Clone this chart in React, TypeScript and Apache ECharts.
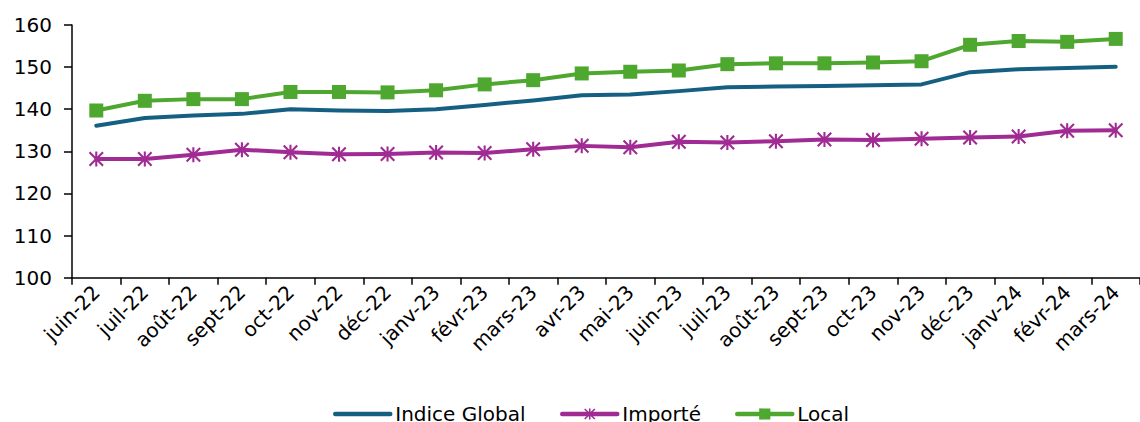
import React, { useEffect, useRef } from "react";
import * as echarts from "echarts";

const categories = [
  "juin-22", "juil-22", "août-22", "sept-22", "oct-22", "nov-22", "déc-22",
  "janv-23", "févr-23", "mars-23", "avr-23", "mai-23", "juin-23", "juil-23",
  "août-23", "sept-23", "oct-23", "nov-23", "déc-23", "janv-24", "févr-24", "mars-24",
];

const indiceGlobal = [
  136.1, 137.9, 138.5, 138.9, 140.0, 139.7, 139.6, 140.0, 141.0, 142.1, 143.3,
  143.5, 144.3, 145.2, 145.4, 145.5, 145.7, 145.9, 148.8, 149.5, 149.8, 150.1,
];

const importe = [
  128.2, 128.2, 129.2, 130.4, 129.8, 129.3, 129.4, 129.7, 129.6, 130.5, 131.3,
  131.0, 132.3, 132.1, 132.4, 132.8, 132.7, 133.0, 133.3, 133.5, 134.9, 135.0,
];

const local = [
  139.7, 142.0, 142.4, 142.4, 144.1, 144.1, 144.0, 144.5, 145.9, 146.9, 148.5,
  148.9, 149.2, 150.7, 150.9, 150.9, 151.1, 151.4, 155.3, 156.2, 156.0, 156.7,
];

const seriesNames = ["Indice Global", "Importé", "Local"];
const legendLefts = [333, 560, 735];

const ASTERISK =
  "path://M43 0L57 0L57 100L43 100Z M0 10L10 0L100 90L90 100Z M90 0L100 10L10 100L0 90Z";

export default function App() {
  const ref = useRef<HTMLDivElement>(null);

  useEffect(() => {
    if (!ref.current) return;
    const chart = echarts.init(ref.current, undefined, { renderer: "svg" });
    const font = "'DejaVu Sans', Verdana, sans-serif";
    const fs = 20;
    chart.setOption({
      animation: false,
      backgroundColor: "#ffffff",
      textStyle: { fontFamily: font },
      grid: { left: 72, top: 25, width: 1079.5, height: 252.7, containLabel: false },
      legend: seriesNames.map((name, i) => ({
        left: legendLefts[i],
        top: 404,
        padding: 0,
        itemWidth: 55,
        itemHeight: 14,
        itemGap: 0,
        lineStyle: { width: 4.5 },
        textStyle: { fontFamily: font, fontSize: fs, color: "#000" },
        data: [i === 0 ? { name, itemStyle: { opacity: 0 } } : { name }],
      })),
      xAxis: {
        type: "category",
        data: categories,
        boundaryGap: true,
        axisLine: { lineStyle: { color: "#000", width: 1.5 } },
        axisTick: { show: true, length: 7, lineStyle: { color: "#000", width: 1.5 } },
        axisLabel: {
          interval: 0,
          rotate: 45,
          margin: 11,
          fontFamily: font,
          fontSize: fs,
          color: "#000",
        },
        splitLine: { show: false },
      },
      yAxis: {
        type: "value",
        min: 100,
        max: 160,
        interval: 10,
        axisLine: { show: true, lineStyle: { color: "#000", width: 1.5 } },
        axisTick: { show: true, length: 8, lineStyle: { color: "#000", width: 1.5 } },
        axisLabel: { margin: 20, fontFamily: font, fontSize: fs, color: "#000" },
        splitLine: { show: false },
      },
      series: [
        {
          name: seriesNames[0],
          type: "line",
          data: indiceGlobal,
          symbol: "none",
          lineStyle: { color: "#156082", width: 4, cap: "round", join: "round" },
          itemStyle: { color: "#156082" },
        },
        {
          name: seriesNames[1],
          type: "line",
          data: importe,
          symbol: ASTERISK,
          symbolSize: 15,
          lineStyle: { color: "#A02B93", width: 4, cap: "round", join: "round" },
          itemStyle: { color: "#A02B93" },
        },
        {
          name: seriesNames[2],
          type: "line",
          data: local,
          symbol: "rect",
          symbolSize: 14,
          lineStyle: { color: "#4EA72E", width: 4, cap: "round", join: "round" },
          itemStyle: { color: "#4EA72E" },
        },
      ],
    });
    return () => chart.dispose();
  }, []);

  return (
    <div
      ref={ref}
      style={{ position: "absolute", left: 0, top: 0, width: 1140, height: 422 }}
    />
  );
}
